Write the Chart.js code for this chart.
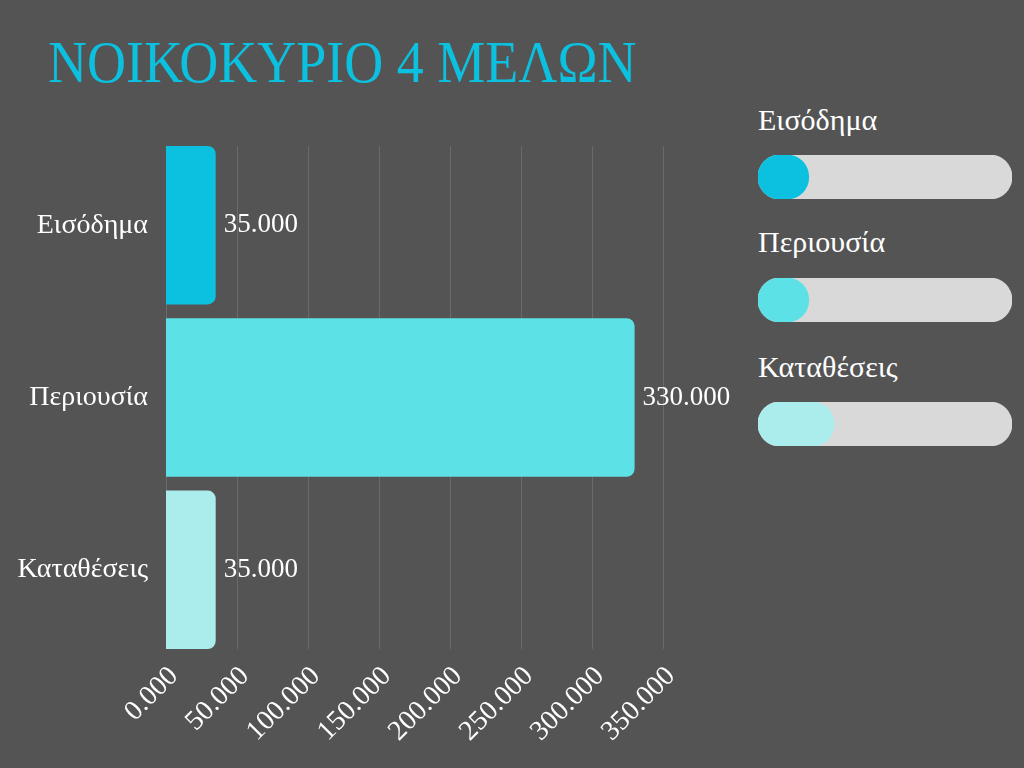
<!DOCTYPE html>
<html lang="el">
<head>
<meta charset="utf-8">
<script src="https://cdn.jsdelivr.net/npm/chart.js@4"></script>
<style>
  html, body { margin: 0; padding: 0; }
  body { width: 1024px; height: 768px; background: #545454; position: relative; overflow: hidden;
         font-family: 'Liberation Serif', 'DejaVu Serif', serif; }
  #title { position: absolute; left: 48px; top: 32px; margin: 0; font-weight: normal;
           font-size: 60px; line-height: 60px; color: #0cc0df; white-space: nowrap;
           transform: scaleX(0.9); transform-origin: left top; }
  #main { position: absolute; left: 0; top: 130px; width: 740px; height: 638px; }
  .lbl { position: absolute; left: 758px; font-size: 30px; line-height: 30px; color: #ffffff; }
  .prog { position: absolute; left: 758px; width: 254px; height: 44px; }
</style>
</head>
<body>
<h1 id="title">ΝΟΙΚΟΚΥΡΙΟ 4 ΜΕΛΩΝ</h1>
<div id="main"><canvas id="chart-main"></canvas></div>

<div class="lbl" style="top:105px">Εισόδημα</div>
<div class="prog" style="top:155px"><canvas id="prog-0"></canvas></div>
<div class="lbl" style="top:227px">Περιουσία</div>
<div class="prog" style="top:278px"><canvas id="prog-1"></canvas></div>
<div class="lbl" style="top:352px">Καταθέσεις</div>
<div class="prog" style="top:402px"><canvas id="prog-2"></canvas></div>

<script>
(function () {
    'use strict';

    var categories = ['Εισόδημα', 'Περιουσία', 'Καταθέσεις'];
    var values = [35000, 330000, 35000];
    var valueLabels = ['35.000', '330.000', '35.000'];
    var tickLabels = ['0.000', '50.000', '100.000', '150.000', '200.000', '250.000', '300.000', '350.000'];
    var progress = [20, 20, 30];   // fill of the small side bars, in percent
    var colors = ['#0cc0df', '#5ce1e6', '#abecec'];

    var white = '#ffffff';
    var gridColor = '#6a6a6a';
    var track = '#d9d9d9';

    Chart.defaults.font.family = "'Liberation Serif', 'DejaVu Serif', serif";
    Chart.defaults.color = white;

    // vertical grid lines, only as tall as the bars themselves
    var shortGridPlugin = {
        id: 'shortGrid',
        beforeDatasetsDraw: function (chart) {
            var ctx = chart.ctx;
            var xs = chart.scales.x;
            var bars = chart.getDatasetMeta(0).data;
            var first = bars[0], last = bars[bars.length - 1];
            var top = first.y - first.height / 2;
            var bottom = last.y + last.height / 2;
            ctx.save();
            ctx.strokeStyle = gridColor;
            ctx.lineWidth = 1;
            xs.ticks.forEach(function (t) {
                var x = Math.round(xs.getPixelForValue(t.value)) + 0.5;
                ctx.beginPath();
                ctx.moveTo(x, top);
                ctx.lineTo(x, bottom);
                ctx.stroke();
            });
            ctx.restore();
        }
    };

    // writes the value just after the end of each bar
    var valueLabelPlugin = {
        id: 'valueLabels',
        afterDatasetsDraw: function (chart) {
            var ctx = chart.ctx;
            var meta = chart.getDatasetMeta(0);
            ctx.save();
            ctx.fillStyle = white;
            ctx.font = "27px 'Liberation Serif', serif";
            ctx.textAlign = 'left';
            ctx.textBaseline = 'middle';
            meta.data.forEach(function (bar, i) {
                ctx.fillText(valueLabels[i], bar.x + 8, bar.y);
            });
            ctx.restore();
        }
    };

    new Chart(document.getElementById('chart-main'), {
        type: 'bar',
        data: {
            labels: categories,
            datasets: [
                {
                    data: values,
                    backgroundColor: colors,
                    borderWidth: 0,
                    borderRadius: 8,
                    barPercentage: 0.92,
                    categoryPercentage: 1
                }
            ]
        },
        options: {
            indexAxis: 'y',
            responsive: true,
            maintainAspectRatio: false,
            animation: false,
            layout: { padding: { top: 9, right: 77, left: 0, bottom: 0 } },
            plugins: { legend: { display: false }, tooltip: { enabled: false } },
            scales: {
                x: {
                    min: 0,
                    max: 350000,
                    grid: { display: false, drawTicks: false },
                    border: { display: false },
                    ticks: {
                        stepSize: 50000,
                        minRotation: 45,
                        maxRotation: 45,
                        padding: 4,
                        labelOffset: 8,
                        color: white,
                        font: { size: 28 },
                        callback: function (v, i) { return tickLabels[i]; }
                    },
                    afterFit: function (s) { s.height = 112; }
                },
                y: {
                    grid: { display: false, drawTicks: false },
                    border: { display: false },
                    ticks: { padding: 18, color: white, font: { size: 28 } },
                    afterFit: function (s) {
                        s.width = 166;
                        s.paddingTop = 0;
                        s.paddingBottom = 0;
                    }
                }
            }
        },
        plugins: [shortGridPlugin, valueLabelPlugin]
    });

    progress.forEach(function (p, i) {
        new Chart(document.getElementById('prog-' + i), {
            type: 'bar',
            data: {
                labels: [categories[i]],
                datasets: [
                    { data: [p], backgroundColor: colors[i], borderWidth: 0, borderRadius: 22,
                      borderSkipped: false, grouped: false, order: 0,
                      barPercentage: 1, categoryPercentage: 1 },
                    { data: [100], backgroundColor: track, borderWidth: 0, borderRadius: 22,
                      borderSkipped: false, grouped: false, order: 1,
                      barPercentage: 1, categoryPercentage: 1 }
                ]
            },
            options: {
                indexAxis: 'y',
                responsive: true,
                maintainAspectRatio: false,
                animation: false,
                layout: { padding: 0 },
                plugins: { legend: { display: false }, tooltip: { enabled: false } },
                scales: {
                    x: { display: false, min: 0, max: 100 },
                    y: { display: false }
                }
            }
        });
    });
})();
</script>
</body>
</html>
